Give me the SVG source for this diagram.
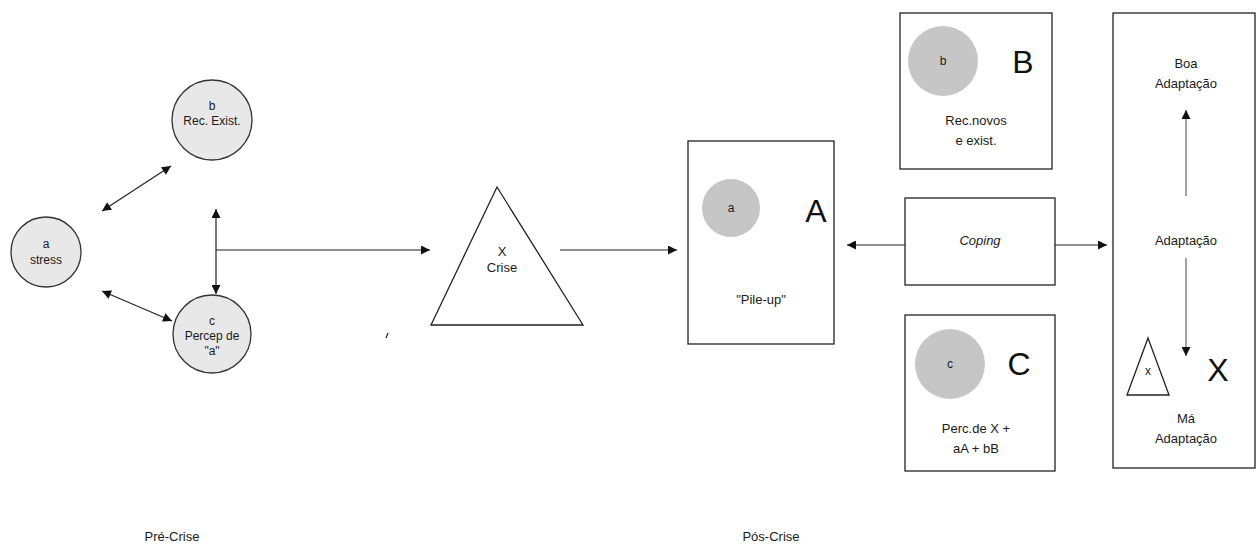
<svg xmlns="http://www.w3.org/2000/svg" width="1257" height="547" viewBox="0 0 1257 547">
<defs>
<marker id="ah" viewBox="0 0 10 10" refX="10" refY="5" markerWidth="10" markerHeight="9" markerUnits="userSpaceOnUse" orient="auto-start-reverse">
<path d="M0,0 L10,5 L0,10 z" fill="#111"/>
</marker>
<style>
text{font-family:"Liberation Sans",Arial,sans-serif;fill:#1a1a1a;text-anchor:middle}
.s{font-size:12px}
.m{font-size:13px}
.big{font-size:32px;fill:#111}
.lc{fill:#e8e8e8;stroke:#333;stroke-width:1.3}
.gc{fill:#c6c6c6}
.box{fill:#fff;stroke:#222;stroke-width:1.3}
.ln{stroke:#222;stroke-width:1.2;fill:none}
.lg{stroke:#666;stroke-width:1.2;fill:none}
</style>
</defs>
<rect width="1257" height="547" fill="#fff"/>

<g id="node-a">
<circle class="lc" cx="46" cy="252" r="35"/>
<text class="s" x="46" y="248">a</text>
<text class="s" x="46" y="264">stress</text>
</g>
<g id="node-b">
<circle class="lc" cx="212" cy="120" r="40"/>
<text class="s" x="212" y="110">b</text>
<text class="s" x="212" y="125">Rec. Exist.</text>
</g>
<g id="node-c">
<circle class="lc" cx="212" cy="334" r="39"/>
<text class="s" x="212" y="325">c</text>
<text class="s" x="212" y="340">Percep de</text>
<text class="s" x="212" y="355">"a"</text>
</g>

<g id="node-crise">
<polygon class="box" points="497,187 583,325 431,325"/>
<text class="m" x="502" y="256">X</text>
<text class="m" x="502" y="272">Crise</text>
</g>
<line class="ln" x1="388" y1="333" x2="386" y2="338"/>

<g id="node-A">
<rect class="box" x="688" y="141" width="146" height="203"/>
<circle class="gc" cx="731" cy="208" r="29"/>
<text class="s" x="731" y="212">a</text>
<text class="big" x="816" y="222">A</text>
<text class="m" x="761" y="304">"Pile-up"</text>
</g>

<g id="node-B">
<rect class="box" x="900" y="13" width="152" height="156"/>
<circle class="gc" cx="943" cy="61" r="35"/>
<text class="s" x="943" y="65">b</text>
<text class="big" x="1023" y="73">B</text>
<text class="m" x="976" y="125">Rec.novos</text>
<text class="m" x="976" y="145">e exist.</text>
</g>

<g id="node-coping">
<rect class="box" x="905" y="198" width="150" height="87"/>
<text class="m" x="980" y="245" font-style="italic">Coping</text>
</g>

<g id="node-C">
<rect class="box" x="905" y="315" width="150" height="156"/>
<circle class="gc" cx="950" cy="364" r="35"/>
<text class="s" x="950" y="368">c</text>
<text class="big" x="1019" y="375">C</text>
<text class="m" x="976" y="433">Perc.de X +</text>
<text class="m" x="976" y="453">aA + bB</text>
</g>

<g id="node-adapt">
<rect class="box" x="1113" y="13" width="142" height="455"/>
<text class="m" x="1186" y="68">Boa</text>
<text class="m" x="1186" y="88">Adaptação</text>
<text class="m" x="1186" y="245">Adaptação</text>
<polygon class="box" points="1148,338 1169,395 1127,395"/>
<text class="s" x="1148" y="375">x</text>
<text class="big" x="1218" y="381">X</text>
<text class="m" x="1186" y="423">Má</text>
<text class="m" x="1186" y="443">Adaptação</text>
</g>

<text class="m" x="172" y="541">Pré-Crise</text>
<text class="m" x="771" y="541">Pós-Crise</text>

<g id="connectors">
<line class="ln" x1="102" y1="211" x2="171" y2="166" marker-start="url(#ah)" marker-end="url(#ah)"/>
<line class="ln" x1="102" y1="291" x2="172" y2="321" marker-start="url(#ah)" marker-end="url(#ah)"/>
<line class="ln" x1="216" y1="209" x2="216" y2="294" marker-start="url(#ah)" marker-end="url(#ah)"/>
<line class="ln" x1="216" y1="250" x2="430" y2="250" marker-end="url(#ah)"/>
<line class="ln" x1="560" y1="250" x2="677" y2="250" marker-end="url(#ah)"/>
<line class="ln" x1="905" y1="245" x2="847" y2="245" marker-end="url(#ah)"/>
<line class="ln" x1="1055" y1="245" x2="1107" y2="245" marker-end="url(#ah)"/>
<line class="lg" x1="1186" y1="196" x2="1186" y2="110" marker-end="url(#ah)"/>
<line class="lg" x1="1186" y1="258" x2="1186" y2="356" marker-end="url(#ah)"/>
</g>
</svg>
